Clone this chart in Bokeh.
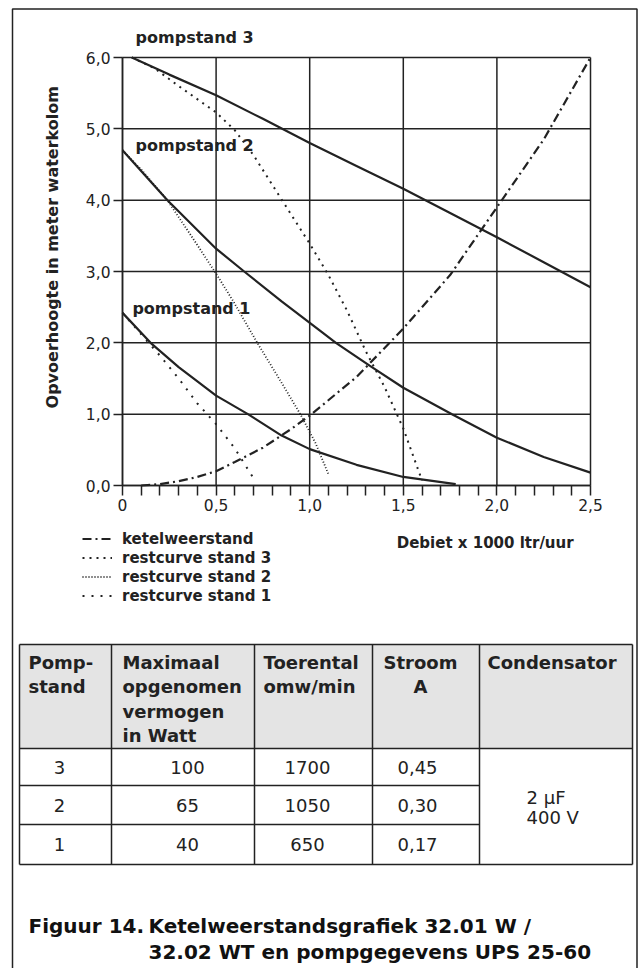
import math
from bokeh.plotting import figure
from bokeh.models import (Range1d, FixedTicker, CustomJSTickFormatter, Label,
                          Legend, LegendItem, LinearAxis)
from bokeh.embed import file_html
from bokeh.resources import INLINE
from bokeh.core.properties import value

# ---------------- data ----------------
pomp3_x = [0.05, 0.25, 0.5, 0.75, 1.0, 1.25, 1.5, 1.75, 2.0, 2.25, 2.5]
pomp3_y = [6.0, 5.76, 5.47, 5.14, 4.80, 4.48, 4.16, 3.82, 3.48, 3.13, 2.78]

pomp2_x = [0.0, 0.24, 0.5, 0.65, 0.85, 1.06, 1.14, 1.32, 1.5, 1.76, 2.0, 2.25, 2.5]
pomp2_y = [4.7, 4.0, 3.32, 3.0, 2.58, 2.16, 2.0, 1.68, 1.37, 1.0, 0.67, 0.40, 0.18]

pomp1_x = [0.0, 0.15, 0.3, 0.5, 0.67, 0.85, 1.0, 1.25, 1.5, 1.78]
pomp1_y = [2.42, 2.0, 1.66, 1.26, 1.0, 0.70, 0.51, 0.29, 0.12, 0.02]

ketel_x = [0.1, 0.2, 0.3, 0.4, 0.5, 0.6, 0.75, 0.9, 1.0, 1.25, 1.5, 1.75, 2.0, 2.25, 2.5]
ketel_y = [0.0, 0.02, 0.06, 0.12, 0.2, 0.33, 0.53, 0.79, 0.98, 1.52, 2.2, 2.95, 3.9, 4.85, 6.0]

rest3_x = [0.05, 0.17, 0.3, 0.5, 0.6, 0.7, 0.84, 1.0, 1.1, 1.2, 1.3, 1.4, 1.5, 1.6]
rest3_y = [6.0, 5.85, 5.6, 5.23, 4.98, 4.63, 4.05, 3.39, 2.95, 2.45, 1.88, 1.38, 0.8, 0.07]

rest2_x = [0.0, 0.1, 0.24, 0.4, 0.5, 0.59, 0.72, 0.85, 0.95, 1.03, 1.1]
rest2_y = [4.7, 4.43, 4.0, 3.37, 2.97, 2.59, 2.0, 1.44, 1.0, 0.6, 0.16]

rest1_x = [0.0, 0.1, 0.2, 0.3, 0.4, 0.5, 0.6, 0.7]
rest1_y = [2.42, 2.12, 1.82, 1.50, 1.15, 0.86, 0.52, 0.10]

x_ticks = [0.0, 0.5, 1.0, 1.5, 2.0, 2.5]
x_minor = [0.1, 0.2, 0.3, 0.4, 0.6, 0.7, 0.8, 0.9, 1.1, 1.2, 1.3, 1.4,
           1.6, 1.7, 1.8, 1.9, 2.1, 2.2, 2.3, 2.4]
y_ticks = [0, 1, 2, 3, 4, 5, 6]

curve_labels = ["pompstand 3", "pompstand 2", "pompstand 1"]
legend_labels = ["ketelweerstand", "restcurve stand 3", "restcurve stand 2", "restcurve stand 1"]
x_title = "Debiet x 1000 ltr/uur"
y_title = "Opvoerhoogte in meter waterkolom"

# table
headers = [["Pomp-", "stand"],
           ["Maximaal", "opgenomen", "vermogen", "in Watt"],
           ["Toerental", "omw/min"],
           ["Stroom", "A"],
           ["Condensator"]]
col_stand = ["3", "2", "1"]
col_vermogen = ["100", "65", "40"]
col_toerental = ["1700", "1050", "650"]
col_stroom = ["0,45", "0,30", "0,17"]
condensator = ["2 µF", "400 V"]
caption_1a = "Figuur 14."
caption_1b = "Ketelweerstandsgrafiek 32.01 W /"
caption_2 = "32.02 WT en pompgegevens UPS 25-60"

# ---------------- layout / styles ----------------
INK = "#222222"
FONT = "DejaVu Sans"
W, H = 638, 968
X0, X1, Y0, Y1 = 0.0, 2.5, 0.0, 6.0
FL, FT, FW, FH = 122, 57, 468, 428          # chart area in canvas pixels
px_x = FW / (X1 - X0)
px_y = FH / (Y1 - Y0)

p = figure(width=W, height=H, output_backend="svg", toolbar_location=None, title=None,
           x_range=Range1d(X0 - FL / px_x, X1 + (W - FL - FW) / px_x),
           y_range=Range1d(Y1 - (H - FT) / px_y, Y1 + FT / px_y),
           min_border=0, x_axis_location=None, y_axis_location=None)
p.extra_x_ranges = {"px": Range1d(0, W)}
p.extra_y_ranges = {"px": Range1d(H, 0)}
p.xgrid.visible = False
p.ygrid.visible = False
p.outline_line_color = None
p.background_fill_color = "white"
p.border_fill_color = "white"

PX = dict(x_range_name="px", y_range_name="px")

# page border (left, top, right)
BL, BR, BT = 12, 636.5, 8.5
p.line(x=[BL, BL, BR, BR], y=[H + 10, BT, BT, H + 10], line_color=INK, line_width=1.5, **PX)

# grid of the chart
p.segment(x0=x_ticks, y0=[Y0] * len(x_ticks), x1=x_ticks, y1=[Y1] * len(x_ticks),
          line_color=INK, line_width=1.5)
p.segment(x0=[X0] * len(y_ticks), y0=y_ticks, x1=[X1] * len(y_ticks), y1=y_ticks,
          line_color=INK, line_width=1.5)

# axes fixed at the chart origin
xaxis = LinearAxis(fixed_location=Y0, bounds=(X0, X1),
                   ticker=FixedTicker(ticks=x_ticks, minor_ticks=x_minor),
                   formatter=CustomJSTickFormatter(
                       code="return tick == 0 ? '0' : tick.toFixed(1).replace('.', ',');"))
yaxis = LinearAxis(fixed_location=X0, bounds=(Y0, Y1),
                   ticker=FixedTicker(ticks=y_ticks, minor_ticks=[]),
                   formatter=CustomJSTickFormatter(
                       code="return tick.toFixed(1).replace('.', ',');"))
for ax in (xaxis, yaxis):
    ax.axis_line_color = INK
    ax.axis_line_width = 1.5
    ax.major_tick_line_color = INK
    ax.major_tick_line_width = 1.5
    ax.minor_tick_line_color = INK
    ax.minor_tick_line_width = 1.5
    ax.major_tick_in = 0
    ax.minor_tick_in = 0
    ax.major_label_text_font = FONT
    ax.major_label_text_font_size = "15.5px"
    ax.major_label_text_color = INK
xaxis.major_tick_out = 10
xaxis.minor_tick_out = 10
xaxis.major_label_standoff = 3
yaxis.major_tick_out = 9
yaxis.minor_tick_out = 0
yaxis.major_label_standoff = 3
p.add_layout(xaxis, "below")
p.add_layout(yaxis, "left")

# curves
r_p3 = p.line(pomp3_x, pomp3_y, line_color=INK, line_width=2.2)
r_p2 = p.line(pomp2_x, pomp2_y, line_color=INK, line_width=2.2)
r_p1 = p.line(pomp1_x, pomp1_y, line_color=INK, line_width=2.2)
r_k = p.line(ketel_x, ketel_y, line_color=INK, line_width=2.2, line_dash="9 4 2 4")
r_r3 = p.line(rest3_x, rest3_y, line_color=INK, line_width=2, line_dash="2 5")
r_r2 = p.line(rest2_x, rest2_y, line_color=INK, line_width=1.8, line_dash="1 2")
r_r1 = p.line(rest1_x, rest1_y, line_color=INK, line_width=2, line_dash="2 7")

label_pos = [(0.07, 6.28), (0.07, 4.77), (0.053, 2.48)]
for txt, (lx, ly) in zip(curve_labels, label_pos):
    p.add_layout(Label(x=lx, y=ly, text=txt, text_font=FONT, text_font_style="bold",
                       text_font_size="16px", text_color=INK, text_baseline="middle"))

p.add_layout(Label(x=1.465, y=-0.80, text=x_title, text_font=FONT, text_font_style="bold",
                   text_font_size="15px", text_color=INK, text_baseline="middle"))
p.add_layout(Label(x=-0.374, y=3.34, text=y_title, angle=math.pi / 2, text_font=FONT,
                   text_font_style="bold", text_font_size="16px", text_color=INK,
                   text_align="center", text_baseline="middle"))

LEG_LEFT, LEG_TOP, ROW_H = 82, 529, 19
legend = Legend(items=[LegendItem(label=legend_labels[0], renderers=[r_k]),
                       LegendItem(label=legend_labels[1], renderers=[r_r3]),
                       LegendItem(label=legend_labels[2], renderers=[r_r2]),
                       LegendItem(label=legend_labels[3], renderers=[r_r1])],
                location=(LEG_LEFT, H - LEG_TOP - 4 * ROW_H), orientation="vertical",
                padding=0, margin=0, spacing=0, label_height=ROW_H, glyph_height=ROW_H,
                glyph_width=30, label_standoff=10, label_text_font=FONT,
                label_text_font_style="bold", label_text_font_size="15px",
                label_text_color=INK, background_fill_alpha=0, border_line_alpha=0)
p.add_layout(legend)

# ---------------- table and caption (canvas pixel range "px") ----------------
col_edges = [19, 111, 254, 372, 479, 632]
top, head_bot, row_lines, bot = 644, 748, [785, 824], 864

p.quad(left=[col_edges[0]], right=[col_edges[-1]], top=[top], bottom=[head_bot],
       fill_color="#e4e4e4", line_alpha=0, **PX)
hx0 = [col_edges[0]] * (3 + len(row_lines))
hx1 = [col_edges[-1]] * 3 + [col_edges[4]] * len(row_lines)
hy = [top, head_bot, bot] + row_lines
p.segment(x0=hx0, y0=hy, x1=hx1, y1=hy, line_color=INK, line_width=1.5, **PX)
p.segment(x0=col_edges, y0=[top] * len(col_edges), x1=col_edges, y1=[bot] * len(col_edges),
          line_color=INK, line_width=1.5, **PX)

head_x = [28, 122, 263, 420, 487]
head_align = ["left", "left", "left", "center", "left"]
line_y = [662, 686, 711, 735]
tx, ty, tt, ta = [], [], [], []
for hx, al, lines in zip(head_x, head_align, headers):
    for i, s in enumerate(lines):
        tx.append(hx); ty.append(line_y[i]); tt.append(s); ta.append(al)
p.text(x=tx, y=ty, text=tt, text_align=ta, text_baseline="middle",
       text_font=value(FONT), text_font_style="bold", text_font_size=value("18px"),
       text_color=INK, **PX)

row_y = [766.5, 804.5, 844]
data_x = [59, 187, 307, 417]
dx, dy, dt = [], [], []
for cx, col in zip(data_x, [col_stand, col_vermogen, col_toerental, col_stroom]):
    for ry, s in zip(row_y, col):
        dx.append(cx); dy.append(ry); dt.append(s)
p.text(x=dx, y=dy, text=dt, text_align="center", text_baseline="middle",
       text_font=value(FONT), text_font_size=value("18px"), text_color=INK, **PX)
p.text(x=[526, 526], y=[797, 817], text=condensator, text_align="left", text_baseline="middle",
       text_font=value(FONT), text_font_size=value("18px"), text_color=INK, **PX)

p.text(x=[28, 148, 148], y=[925, 925, 951], text=[caption_1a, caption_1b, caption_2],
       text_align="left", text_baseline="middle", text_font=value(FONT),
       text_font_style="bold", text_font_size=value("20px"), text_color="#111111", **PX)

open("out.html", "w").write(file_html(p, INLINE))
